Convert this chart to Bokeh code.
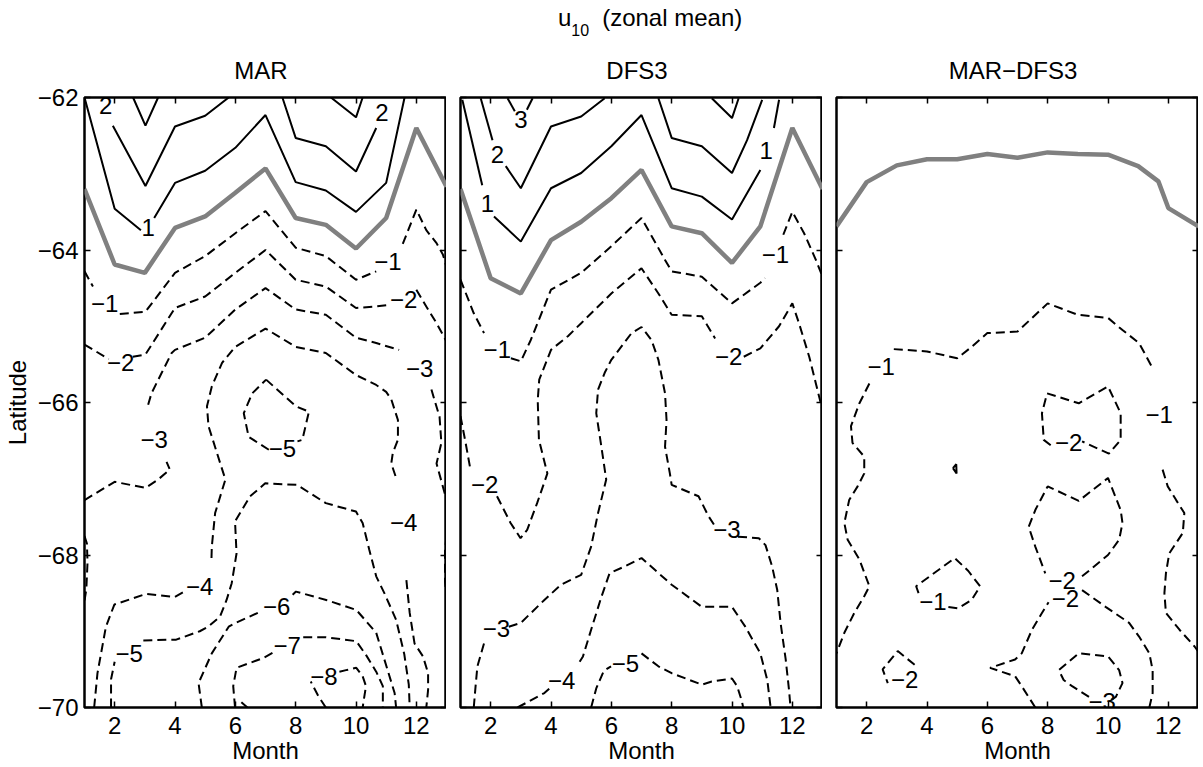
from bokeh.plotting import figure
from bokeh.layouts import row, column
from bokeh.models import Range1d, FixedTicker, LinearAxis, ColumnDataSource, Div
from bokeh.core.properties import value
from bokeh.embed import file_html
from bokeh.resources import INLINE

M = "\u2212"
FONT = "Liberation Sans"

month_ticks = [2, 4, 6, 8, 10, 12]
lat_ticks = [-70, -68, -66, -64, -62]
grid_lat = [-68, -66, -64]
panel_titles = ["MAR", "DFS3", "MAR" + M + "DFS3"]
suptitle_main, suptitle_sub, suptitle_rest = "u", "10", "(zonal mean)"

# ---------------- MAR : contour segments (month, latitude) per level ----------------
mar_zero = [[(1, -63.20), (2, -64.19), (3, -64.30), (4, -63.71), (5, -63.56), (6, -63.25), (7, -62.93),
             (8, -63.58), (9, -63.67), (10, -63.98), (11, -63.58), (12, -62.40), (13, -63.17)]]
mar_pos = {
    1: [[(1, -62.0), (2, -63.46), (2.87, -63.74)],
        [(3.31, -63.58), (4, -63.12), (5, -62.96), (6, -62.66), (7, -62.23), (8, -63.11), (9, -63.22),
         (10, -63.50), (11, -63.12), (11.61, -62.0)]],
    2: [[(1.94, -62.37), (3.02, -63.16), (4, -62.38), (5, -62.24), (5.78, -62.0)],
        [(7.56, -62.0), (8, -62.53), (9, -62.64), (10, -62.97), (10.67, -62.40)]],
    3: [[(2.61, -62.0), (3.02, -62.37), (3.44, -62.0)],
        [(9.17, -62.0), (10, -62.26), (10.22, -62.0)]],
}
mar_neg = {
    -1: [[(1, -64.28), (1.28, -64.48)],
         [(2.17, -64.84), (3.02, -64.81), (4, -64.30), (5, -64.08), (6, -63.78), (7, -63.49), (8, -63.97),
          (9, -64.08), (10, -64.39), (10.67, -64.28)],
         [(11.55, -63.92), (12, -63.47), (12.33, -63.74), (12.67, -63.91), (12.88, -64.06), (13, -64.22)]],
    -2: [[(1, -65.24), (1.8, -65.43)],
         [(2.6, -65.40), (3.02, -65.37), (4, -64.76), (5, -64.61), (6, -64.30), (7, -64.0), (8, -64.39),
          (9, -64.48), (10, -64.76), (10.67, -64.74), (11.1, -64.72)],
         [(12, -64.52), (12.33, -64.74), (12.67, -64.96), (13, -65.2)]],
    -3: [[(1, -67.28), (2, -67.04), (3.02, -67.12), (3.44, -67.01), (3.83, -66.88), (3.72, -66.78)],
         [(3.11, -66.03), (3.22, -65.88), (3.56, -65.61), (3.89, -65.35), (4, -65.31), (5, -65.15),
          (6, -64.78), (7, -64.5), (8, -64.78), (9, -64.85), (10, -65.15), (10.67, -65.22), (11.43, -65.31)],
         [(12.5, -65.83), (12.77, -66.19), (12.83, -66.53), (12.67, -66.8), (12.94, -67.19), (13, -67.25)],
         [(1, -67.75), (1.08, -67.85), (1.1, -68.1), (1.06, -68.45), (1, -68.6)],
         [(13, -67.75), (12.95, -67.95), (12.95, -68.35), (13, -68.55)]],
    -4: [[(1.32, -70.0), (1.43, -69.55), (1.71, -68.94), (1.99, -68.65), (3.04, -68.51), (3.99, -68.55),
          (4.35, -68.47)],
         [(5.21, -68.04), (5.22, -67.89), (5.33, -67.45), (5.67, -67.01), (5.39, -66.66), (5.11, -66.31),
          (5.06, -66.05), (5.22, -65.79), (5.56, -65.48), (6, -65.27), (7, -65.03), (8, -65.27), (9, -65.35),
          (10, -65.64), (10.67, -65.77), (11, -65.86), (11.17, -65.96), (11.39, -66.23), (11.39, -66.49),
          (11.22, -66.66), (11.17, -66.8), (11.33, -66.99)],
         [(11.67, -68.33), (11.78, -68.76), (11.94, -69.16), (12.22, -69.33), (12.39, -69.55),
          (12.39, -69.77), (12.33, -70.0)]],
    -5: [[(7.02, -65.70), (8.01, -66.05), (8.44, -66.12), (8.22, -66.49), (8.06, -66.51)],
         [(7.11, -66.62), (6.44, -66.45), (6.28, -66.14), (6.56, -65.88), (7.02, -65.70)],
         [(1.88, -70.0), (1.88, -69.63), (2.0, -69.4)],
         [(2.95, -69.12), (4.04, -69.11), (4.82, -69.0), (5.1, -68.94), (5.49, -68.81), (5.71, -68.59),
          (5.88, -68.37), (6.04, -67.98), (5.99, -67.56), (6.49, -67.23), (6.99, -67.06), (8.04, -67.08),
          (9, -67.32), (10, -67.43), (10.22, -67.58), (10.44, -67.93), (10.67, -68.28), (10.94, -68.5),
          (11.33, -68.85), (11.6, -69.3), (11.75, -69.7), (11.78, -70.0)]],
    -6: [[(4.89, -70.0), (4.78, -69.68), (5.22, -69.29), (5.78, -68.94), (6.01, -68.89), (6.85, -68.74)],
         [(7.9, -68.52), (8.01, -68.48), (9.01, -68.59), (10.01, -68.72), (10.67, -69.02), (10.94, -69.37),
          (11.28, -69.81), (11.33, -70.0)]],
    -7: [[(5.99, -70.0), (5.93, -69.72), (6.04, -69.48), (6.93, -69.35), (7.25, -69.28)],
         [(8.25, -69.08), (9.01, -69.08), (10.01, -69.13), (10.33, -69.31), (10.67, -69.53), (10.89, -69.72),
          (10.89, -70.0)]],
    -8: [[(9.0, -70.0), (8.75, -69.85), (8.5, -69.66)],
         [(9.45, -69.53), (9.67, -69.51), (10.01, -69.48), (10.22, -69.59), (10.33, -69.72), (10.22, -70.0)],
         [(6.2, -69.93), (6.4, -70.0)]],
}
mar_labels = [("2", 1.7, -62.11), ("1", 3.11, -63.71), ("2", 10.86, -62.2),
              (M + "1", 1.67, -64.70), (M + "2", 2.2, -65.47), (M + "3", 3.31, -66.49),
              (M + "5", 7.56, -66.60), (M + "1", 11.06, -64.15), (M + "2", 11.58, -64.65),
              (M + "3", 12.11, -65.55), (M + "4", 11.58, -67.58), (M + "4", 4.82, -68.41),
              (M + "5", 2.48, -69.29), (M + "6", 7.37, -68.68), (M + "7", 7.72, -69.19),
              (M + "8", 8.94, -69.59)]

# ---------------- DFS3 ----------------
dfs_zero = [[(1, -63.20), (2, -64.37), (3, -64.57), (4, -63.87), (5, -63.63), (6, -63.32), (7, -62.95),
             (8, -63.69), (9, -63.78), (10, -64.17), (10.94, -63.69), (12, -62.40), (13, -63.2)]]
dfs_pos = {
    1: [[(1.06, -62.03), (1.72, -63.15)],
        [(2.11, -63.56), (3, -63.89), (4, -63.19), (5, -62.99), (6, -62.64), (7, -62.23), (8, -63.19),
         (9, -63.30), (10, -63.60), (10.94, -62.95)],
        [(11.39, -62.40), (11.56, -62.03)]],
    2: [[(1.67, -62.01), (2.06, -62.56)],
        [(2.5, -62.9), (3, -63.19), (4, -62.38), (5, -62.25), (5.78, -62.01)],
        [(7.56, -62.01), (8, -62.53), (9, -62.64), (10, -62.99), (10.5, -62.56), (11, -62.03)]],
    3: [[(2.56, -62.01), (2.8, -62.18)], [(3.2, -62.16), (3.39, -62.01)],
        [(9.33, -62.01), (10, -62.27), (10.22, -62.01)]],
}
dfs_neg = {
    -1: [[(1, -64.39), (1.44, -64.83), (1.78, -65.09)],
         [(2.67, -65.42), (3, -65.46), (3.33, -65.18), (4, -64.52), (5, -64.30), (6, -63.95), (7, -63.58),
          (7.78, -64.13), (8, -64.28), (9, -64.35), (10, -64.70), (10.94, -64.43), (11.1, -64.37)],
         [(11.7, -63.8), (12, -63.50), (12.39, -63.78), (12.78, -64.13), (13, -64.35)]],
    -2: [[(1, -66.18), (1.17, -66.53), (1.33, -66.88)],
         [(2.21, -67.23), (2.66, -67.58), (2.99, -67.78), (3.21, -67.67), (3.54, -67.32), (3.88, -66.93),
          (3.6, -66.49), (3.56, -65.97), (3.61, -65.70), (4, -65.31), (4.56, -65.13), (5, -64.96),
          (6, -64.57), (7, -64.24), (7.56, -64.57), (8, -64.85), (9, -64.87), (9.44, -65.16)],
         [(10.39, -65.40), (10.94, -65.29), (11.56, -65.0), (12, -64.70), (12.22, -64.96), (12.56, -65.40),
          (12.78, -65.75), (13, -66.1)]],
    -3: [[(1.44, -70.0), (1.5, -69.72), (1.56, -69.46), (1.78, -69.16)],
         [(2.6, -68.94), (3, -68.89), (3.78, -68.59), (4.33, -68.39), (5, -68.26), (5.33, -67.89),
          (5.56, -67.45), (5.83, -67.01), (5.67, -66.58), (5.5, -66.14), (5.56, -65.83), (5.78, -65.61),
          (6, -65.44), (6.67, -65.09), (7, -65.01), (7.33, -65.18), (7.56, -65.44), (7.78, -65.88),
          (7.83, -66.23), (7.78, -66.58), (7.94, -66.93), (8.0, -67.08), (8.89, -67.23), (9.22, -67.49),
          (9.4, -67.6)],
         [(10.2, -67.76), (10.89, -67.78), (11.11, -67.87), (11.33, -68.15), (11.5, -68.46), (11.61, -68.89),
          (11.78, -69.37), (11.89, -69.77), (11.94, -70.0)]],
    -4: [[(2.89, -70.0), (3.22, -69.93), (3.78, -69.81), (3.95, -69.75)],
         [(4.95, -69.4), (5.06, -69.33), (5.33, -68.98), (5.67, -68.55), (5.94, -68.24), (6.44, -68.15),
          (7, -68.04), (8, -68.39), (9, -68.68), (10, -68.68), (10.44, -68.94), (10.94, -69.29),
          (11.17, -69.64), (11.28, -70.0)]],
    -5: [[(5.33, -70.0), (5.5, -69.75), (5.75, -69.52), (5.99, -69.46)],
         [(7.0, -69.29), (7.56, -69.46), (8, -69.55), (9, -69.70), (9.33, -69.66), (10, -69.62),
          (10.17, -69.72), (10.33, -69.92), (10.37, -70.0)]],
}
dfs_labels = [("3", 3.0, -62.29), ("2", 2.22, -62.75), ("1", 1.89, -63.39), ("1", 11.13, -62.69),
              (M + "1", 11.44, -64.06), (M + "1", 2.22, -65.31), (M + "2", 9.89, -65.40),
              (M + "2", 1.8, -67.08), (M + "3", 9.83, -67.67), (M + "3", 2.19, -68.96),
              (M + "4", 4.35, -69.64), (M + "5", 6.47, -69.42)]

# ---------------- MAR-DFS3 ----------------
dif_zero = [[(1, -63.69), (2, -63.11), (3, -62.89), (4, -62.81), (5, -62.81), (6, -62.74), (7, -62.79),
             (8, -62.72), (9, -62.74), (10, -62.75), (11, -62.90), (11.67, -63.10), (12, -63.45), (13, -63.69)]]
dif_pos = {
    1: [[(4.86, -66.86), (4.97, -66.81), (4.98, -66.93), (4.86, -66.86)]],
}
dif_neg = {
    -1: [[(2.9, -65.3), (4, -65.33), (5, -65.42), (5.48, -65.27), (6, -65.09), (7, -65.07), (8, -64.70),
          (9, -64.85), (10, -64.89), (10.48, -65.05), (11.03, -65.22), (11.48, -65.55)],
         [(2.09, -65.75), (1.76, -66.01), (1.48, -66.31), (1.53, -66.53), (1.92, -66.71), (1.92, -66.93),
          (1.7, -67.10), (1.42, -67.28), (1.26, -67.58), (1.37, -67.80), (1.76, -68.06), (2.09, -68.41),
          (1.92, -68.54), (1.59, -68.76), (1.26, -69.02), (1, -69.29)],
         [(11.81, -66.88), (11.98, -67.10), (12.26, -67.28), (12.53, -67.45), (12.48, -67.71),
          (12.03, -67.98), (11.92, -68.24), (11.87, -68.50), (11.92, -68.76), (12.37, -68.98),
          (12.87, -69.20), (13, -69.27)],
         [(3.72, -68.5), (3.64, -68.41), (4.92, -68.04), (5.37, -68.21), (5.76, -68.41), (5.48, -68.59),
          (5.03, -68.70), (4.7, -68.68)]],
    -2: [[(8.1, -66.56), (7.87, -66.49), (7.81, -66.14), (7.98, -65.88), (9.03, -66.01), (10, -65.79),
          (10.42, -66.14), (10.42, -66.49), (10.03, -66.67), (9.14, -66.51)],
         [(9.14, -68.28), (9.48, -68.17), (10, -68.00), (10.37, -67.80), (10.48, -67.58), (10.42, -67.41),
          (10, -66.99), (9.03, -67.29), (8.0, -67.10), (7.59, -67.41), (7.37, -67.63), (7.59, -67.89),
          (7.92, -68.24)],
         [(7.59, -70.0), (7.14, -69.72), (6.92, -69.59), (6.09, -69.48), (6.92, -69.37), (7.14, -69.29),
          (7.48, -68.98), (7.81, -68.76), (8.03, -68.62)],
         [(9.14, -68.46), (9.92, -68.68), (10.7, -68.89), (11.03, -69.07), (11.37, -69.29), (11.48, -69.51),
          (11.48, -69.81), (11.37, -70.0)],
         [(3.59, -69.44), (3.03, -69.26), (2.53, -69.5), (2.7, -69.68)]],
    -3: [[(10.1, -69.9), (10.26, -69.86), (10.48, -69.68), (10.37, -69.51), (10, -69.33), (9.03, -69.29),
          (8.37, -69.51), (8.53, -69.64), (8.81, -69.72), (9.37, -69.86)]],
}
dif_labels = [(M + "1", 2.48, -65.53), (M + "1", 11.7, -66.16), (M + "2", 8.7, -66.53),
              (M + "2", 8.48, -68.33), (M + "2", 8.59, -68.57), (M + "1", 4.2, -68.61),
              (M + "2", 3.26, -69.63), (M + "3", 9.81, -69.92)]

FS = "24px"
FRAME_W, FRAME_H = 362, 610
LEFT_BORDERS = [80, 14, 14]


def segs_to_xy(segs):
    xs = [[pt[0] for pt in s] for s in segs]
    ys = [[pt[1] for pt in s] for s in segs]
    return xs, ys


def make_panel(zero, pos, neg, labels, left_border, first):
    p = figure(frame_width=FRAME_W, frame_height=FRAME_H, x_range=Range1d(1, 13), y_range=Range1d(-70, -62),
               output_backend="svg", toolbar_location=None, min_border_left=left_border, min_border_right=0,
               min_border_top=12, min_border_bottom=0, background_fill_color="white",
               border_fill_color="white", outline_line_color="black", outline_line_width=2.5,
               x_axis_type=None, y_axis_type=None, title=None)

    xb = LinearAxis(ticker=FixedTicker(ticks=month_ticks), axis_label="Month")
    yl = LinearAxis(ticker=FixedTicker(ticks=lat_ticks))
    for ax in (xb, yl):
        ax.axis_line_color = None
        ax.major_tick_in = 6
        ax.major_tick_out = 0
        ax.major_tick_line_width = 1.5
        ax.major_tick_line_color = "black"
        ax.minor_tick_line_color = None
        ax.major_label_text_font = FONT
        ax.major_label_text_font_size = FS
        ax.major_label_text_color = "black"
        ax.axis_label_text_font = FONT
        ax.axis_label_text_font_size = FS
        ax.axis_label_text_font_style = "normal"
        ax.axis_label_text_color = "black"
    xb.major_label_standoff = 9
    xb.axis_label_standoff = 0
    if first:
        yl.major_label_overrides = {t: str(t).replace("-", M) for t in lat_ticks}
        yl.major_label_standoff = 6
        yl.axis_label = "Latitude"
        yl.axis_label_standoff = 4
    else:
        yl.major_label_overrides = {t: "" for t in lat_ticks}
        yl.major_label_standoff = 0
        yl.major_label_text_font_size = "0px"
    p.add_layout(xb, "below")
    p.add_layout(yl, "left")
    for ticks, side in ((month_ticks, "above"), (lat_ticks, "right")):
        ax = LinearAxis(ticker=FixedTicker(ticks=ticks))
        ax.major_label_overrides = {t: "" for t in ticks}
        ax.major_label_text_font_size = "0px"
        ax.major_label_standoff = 0
        ax.axis_line_color = None
        ax.major_tick_in = 6
        ax.major_tick_out = 0
        ax.major_tick_line_width = 1.5
        ax.minor_tick_line_color = None
        p.add_layout(ax, side)

    p.xgrid.ticker = FixedTicker(ticks=month_ticks)
    p.ygrid.ticker = FixedTicker(ticks=grid_lat)
    for g in (p.xgrid, p.ygrid):
        g.grid_line_color = "#7a7a7a"
        g.grid_line_dash = "1 3"
        g.grid_line_width = 1

    xs, ys = segs_to_xy(zero)
    p.multi_line(xs=xs, ys=ys, line_color="#808080", line_width=4.5)
    solid = [s for lev in pos for s in pos[lev]]
    xs, ys = segs_to_xy(solid)
    p.multi_line(xs=xs, ys=ys, line_color="black", line_width=2)
    dashed = [s for lev in neg for s in neg[lev]]
    xs, ys = segs_to_xy(dashed)
    p.multi_line(xs=xs, ys=ys, line_color="black", line_width=2, line_dash="9 5")

    src = ColumnDataSource(dict(x=[l[1] for l in labels], y=[l[2] for l in labels], t=[l[0] for l in labels]))
    p.text(x="x", y="y", text="t", source=src, text_font=value(FONT), text_font_size=FS,
           text_align="center", text_baseline="middle", text_color="black")
    return p


p1 = make_panel(mar_zero, mar_pos, mar_neg, mar_labels, LEFT_BORDERS[0], True)
p2 = make_panel(dfs_zero, dfs_pos, dfs_neg, dfs_labels, LEFT_BORDERS[1], False)
p3 = make_panel(dif_zero, dif_pos, dif_neg, dif_labels, LEFT_BORDERS[2], False)

TXT = ("font-family:'Liberation Sans'; font-size:24px; line-height:24px; color:black; "
       "white-space:nowrap; box-sizing:border-box;")

sup_html = (
    '<div style="padding-left:558px; padding-top:6px; ' + TXT + '">'
    + suptitle_main
    + '<span style="font-size:16px; position:relative; top:10px;">' + suptitle_sub + '</span>'
    + '<span style="margin-left:13px;">' + suptitle_rest + '</span></div>'
)
sup = Div(text=sup_html, width=sum(LEFT_BORDERS) + 3 * FRAME_W, height=40, margin=(0, 0, 0, 0))

title_divs = []
for t, lb in zip(panel_titles, LEFT_BORDERS):
    html = ('<div style="padding-left:%dpx; padding-top:19px; width:%dpx; text-align:center; %s">%s</div>'
            % (lb, lb + FRAME_W, TXT, t))
    title_divs.append(Div(text=html, width=lb + FRAME_W, height=45, margin=(0, 0, 0, 0)))

layout = column(sup, row(*title_divs), row(p1, p2, p3))
open("out.html", "w").write(file_html(layout, INLINE))
